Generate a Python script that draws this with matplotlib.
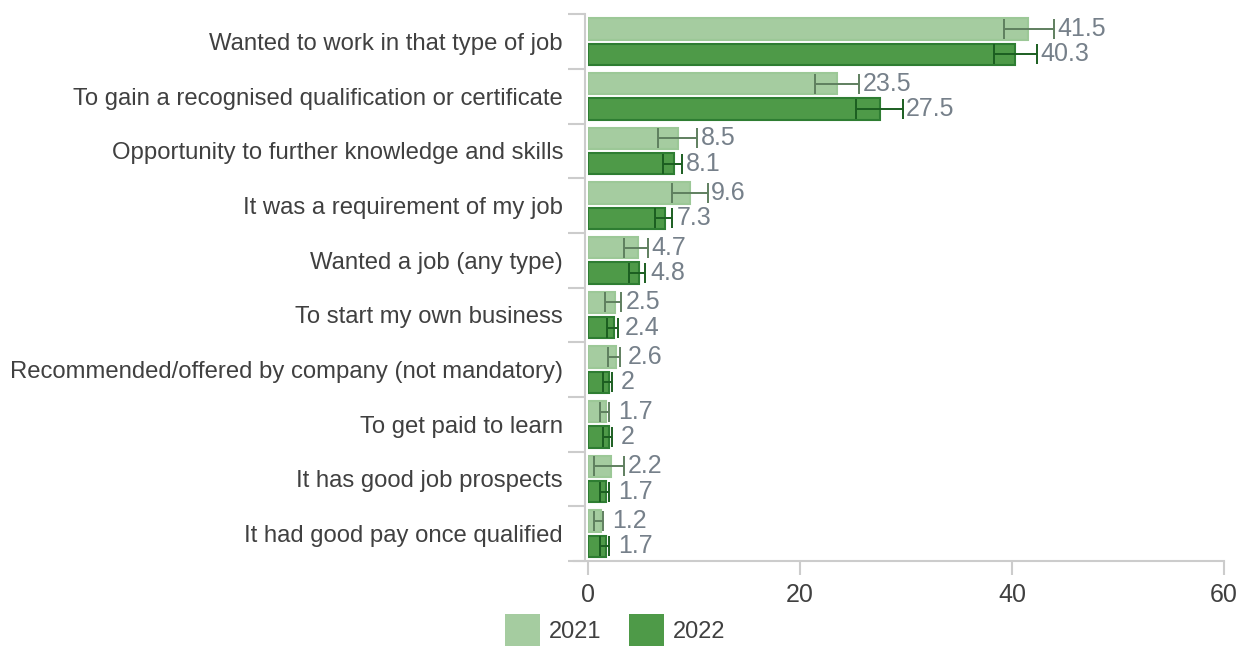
import numpy as np
import matplotlib
matplotlib.use('Agg')
import matplotlib.pyplot as plt

plt.rcParams['font.family'] = ['Liberation Sans', 'DejaVu Sans']

reasons = [
    'Wanted to work in that type of job',
    'To gain a recognised qualification or certificate',
    'Opportunity to further knowledge and skills',
    'It was a requirement of my job',
    'Wanted a job (any type)',
    'To start my own business',
    'Recommended/offered by company (not mandatory)',
    'To get paid to learn',
    'It has good job prospects',
    'It had good pay once qualified',
]
years = ['2021', '2022']
vals_2021 = [41.5, 23.5, 8.5, 9.6, 4.7, 2.5, 2.6, 1.7, 2.2, 1.2]
vals_2022 = [40.3, 27.5, 8.1, 7.3, 4.8, 2.4, 2.0, 2.0, 1.7, 1.7]
# confidence intervals (lower, upper)
lo_2021 = [39.2, 21.4, 6.6, 7.9, 3.4, 1.6, 1.9, 1.1, 0.6, 0.6]
hi_2021 = [44.0, 25.6, 10.3, 11.3, 5.7, 3.1, 3.0, 2.0, 3.4, 1.4]
lo_2022 = [38.3, 25.3, 7.1, 6.3, 3.9, 1.8, 1.4, 1.4, 1.1, 1.1]
hi_2022 = [42.4, 29.7, 8.9, 7.9, 5.4, 2.8, 2.3, 2.3, 2.0, 2.0]

fill = ['#a5cca0', '#4e9a48']
edge = ['#9cc897', '#2e7d32']
err_col = ['#5f7f5f', '#1b5e20']
label_col = '#76808a'
text_col = '#404040'

fig = plt.figure(figsize=(12.42, 6.46), dpi=100)
ax = fig.add_axes([0.4735, 0.1316, 0.512, 0.8464])

y = np.arange(len(reasons))
offsets = [-0.232, 0.232]
series = [(vals_2021, lo_2021, hi_2021), (vals_2022, lo_2022, hi_2022)]

for i, (vals, lo, hi) in enumerate(series):
    vals = np.array(vals)
    lo = np.array(lo)
    hi = np.array(hi)
    yy = y + offsets[i]
    ax.barh(yy, vals, height=0.39, color=fill[i], edgecolor=edge[i],
            linewidth=1.5, label=years[i], zorder=2)
    ax.errorbar(vals, yy, xerr=[vals - lo, hi - vals], fmt='none',
                ecolor=err_col[i], elinewidth=1.4, capsize=7.2,
                capthick=1.4, zorder=3)
    # value label sits past the error cap, but never closer than a fixed gap to the bar
    for v, h, yp in zip(vals, hi, yy):
        ax.text(max(h + 0.3, v + 1.1), yp, f'{v:g}', va='center', ha='left',
                fontsize=18, color=label_col, zorder=4)

ax.set_ylim(len(reasons) - 0.5, -0.5)
ax.set_xlim(0, 60)
ax.set_xticks([0, 20, 40, 60])
ax.tick_params(axis='x', length=10, width=1.5, color='#cccccc',
               labelsize=18, labelcolor=text_col, pad=6)

ax.set_yticks(y)
ax.set_yticklabels(reasons)
ax.set_yticks(np.arange(len(reasons) + 1) - 0.5, minor=True)
ax.tick_params(axis='y', which='major', length=0, pad=16,
               labelsize=17.2, labelcolor=text_col)
ax.tick_params(axis='y', which='minor', length=12, width=1.5, color='#cccccc')

for side in ['top', 'right']:
    ax.spines[side].set_visible(False)
ax.spines['left'].set_color('#cccccc')
ax.spines['left'].set_linewidth(1.5)
ax.spines['left'].set_position(('outward', 2))
ax.spines['bottom'].set_color('#cccccc')
ax.spines['bottom'].set_linewidth(1.5)
ax.spines['bottom'].set_bounds(-1.3, 60)

handles, labels = ax.get_legend_handles_labels()
leg = fig.legend(handles, labels, loc='lower center', ncol=2, frameon=False,
                 fontsize=17, bbox_to_anchor=(0.4956, -0.033),
                 handlelength=1.45, handleheight=1.7, handletextpad=0.4,
                 columnspacing=1.18)
for t in leg.get_texts():
    t.set_color(text_col)
for h in leg.legend_handles:
    h.set_linewidth(0)

fig.savefig('out.png', dpi=100)
